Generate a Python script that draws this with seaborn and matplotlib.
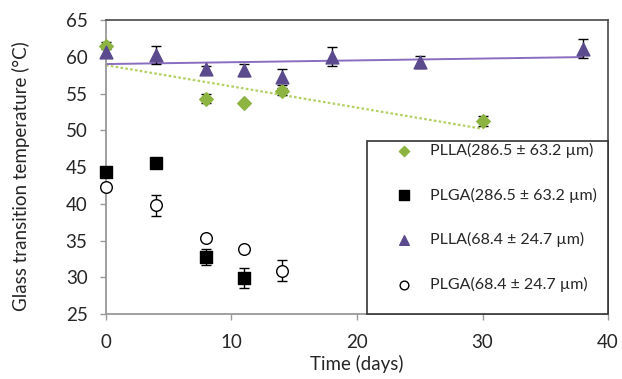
import numpy as np
import pandas as pd
import matplotlib
matplotlib.use("Agg")
import matplotlib.pyplot as plt
from matplotlib.patches import Rectangle
import seaborn as sns

# Data
plla_big_day = [0, 8, 11, 14, 30]
plla_big_tg = [61.5, 54.3, 53.7, 55.3, 51.3]
plla_big_err = [0.5, 0.6, 0.0, 0.5, 0.7]

plga_big_day = [0, 4, 8, 11]
plga_big_tg = [44.3, 45.6, 32.8, 29.9]
plga_big_err = [0.0, 0.0, 1.1, 1.4]

plla_small_day = [0, 4, 8, 11, 14, 18, 25, 38]
plla_small_tg = [60.7, 60.2, 58.3, 58.2, 57.2, 60.0, 59.3, 61.1]
plla_small_err = [0.6, 1.2, 0.5, 0.8, 1.1, 1.3, 0.8, 1.3]

plga_small_day = [0, 4, 8, 11, 14]
plga_small_tg = [42.3, 39.8, 35.3, 33.9, 30.9]
plga_small_err = [0.0, 1.4, 0.0, 0.0, 1.4]

labels = ["PLLA(286.5 \u00b1 63.2 \u00b5m)", "PLGA(286.5 \u00b1 63.2 \u00b5m)",
          "PLLA(68.4 \u00b1 24.7 \u00b5m)", "PLGA(68.4 \u00b1 24.7 \u00b5m)"]

x_ticks = [0, 10, 20, 30, 40]
y_ticks = [25, 30, 35, 40, 45, 50, 55, 60, 65]

sns.set_style("white")
plt.rcParams['font.family'] = ['Lato', 'DejaVu Sans']

green = "#8db441"
green_line = "#b4d066"
purple = "#5b4a8e"
purple_line = "#8a6cc0"

fig = plt.figure(figsize=(6.22, 3.79), dpi=100)
ax = fig.add_axes([0.1704, 0.1715, 0.8071, 0.7757])

# trend lines
sns.regplot(x=plla_big_day, y=plla_big_tg, ax=ax, scatter=False, ci=None, truncate=True,
            line_kws=dict(color=green_line, lw=1.6, ls=(0, (1.2, 1.0))))
sns.regplot(x=plla_small_day, y=plla_small_tg, ax=ax, scatter=False, ci=None, truncate=True,
            line_kws=dict(color=purple_line, lw=1.4))

series = [
    (plla_big_day, plla_big_tg, plla_big_err, "D", green, green, 48),
    (plga_big_day, plga_big_tg, plga_big_err, "s", "black", "black", 80),
    (plla_small_day, plla_small_tg, plla_small_err, "^", purple, purple, 85),
    (plga_small_day, plga_small_tg, plga_small_err, "o", "white", "black", 70),
]
for (d, t, e, m, fc, ec, s), lab in zip(series, labels):
    eb = ax.errorbar(d, t, yerr=e, fmt="none", ecolor="black", elinewidth=1.0,
                     capsize=3.5, capthick=1.0, zorder=3)
    for art in eb.lines[1] + eb.lines[2]:
        art.set_clip_on(False)
    sns.scatterplot(x=d, y=t, ax=ax, marker=m, s=s, color=fc, edgecolor=ec,
                    linewidth=1.0, label=lab, zorder=4, clip_on=False)

ax.set_xlim(0, 40)
ax.set_ylim(25, 65)
ax.set_xticks(x_ticks)
ax.set_yticks(y_ticks)
ax.tick_params(axis="both", labelsize=13.5, length=4.3, direction="out",
               color="#999999", width=1, bottom=True, left=True)
ax.tick_params(axis="x", pad=10)
ax.tick_params(axis="y", pad=9)
ax.set_xlabel("Time (days)", fontsize=13.5, labelpad=3)
ax.set_ylabel("Glass transition temperature (\u00b0C)", fontsize=13.5)
ax.yaxis.set_label_coords(-0.152, 0.47)

for side in ["left", "bottom"]:
    ax.spines[side].set_color("#999999")
    ax.spines[side].set_linewidth(1.3)
for side in ["top", "right"]:
    ax.spines[side].set_color("#555555")
    ax.spines[side].set_linewidth(1.3)
    ax.spines[side].set_visible(True)

# legend box
box_x0, box_y1 = 0.52, 0.588
ax.add_patch(Rectangle((box_x0, 0), 1 - box_x0, box_y1, transform=ax.transAxes,
                       facecolor="white", edgecolor="#333333", lw=1.2, zorder=9,
                       clip_on=False))
leg = ax.legend(loc="upper left", bbox_to_anchor=(0.570, 0.582),
                borderaxespad=0, borderpad=0, fontsize=11.5, labelspacing=1.85,
                handletextpad=0.85, frameon=False, markerscale=0.75,
                handlelength=1.5)
leg.set_zorder(10)

fig.savefig("out.png", dpi=100)
